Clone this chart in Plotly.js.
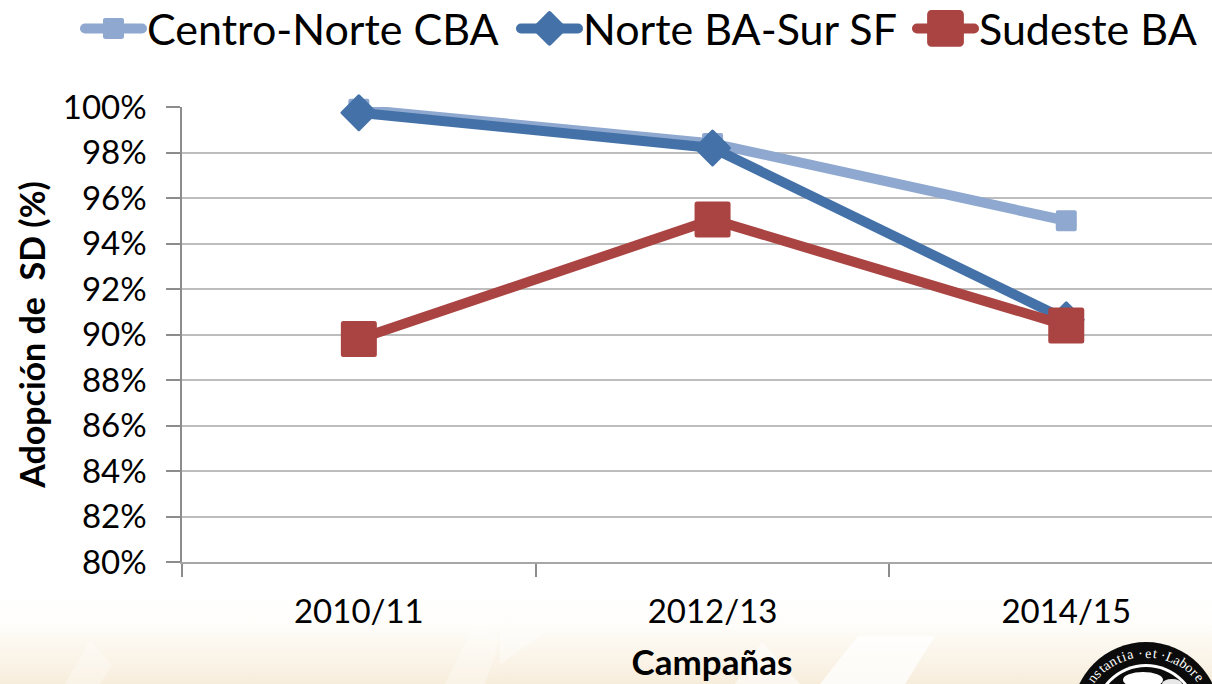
<!DOCTYPE html>
<html><head><meta charset="utf-8">
<script src="https://cdn.plot.ly/plotly-3.0.1.min.js"></script>
<style>
html,body{margin:0;padding:0;width:1212px;height:684px;overflow:hidden;
background:linear-gradient(to bottom,#ffffff 0,#ffffff 595px,#fefdfa 625px,#fbf5ea 655px,#f7eddc 684px);}
#chart{width:1212px;height:684px;}
.scatterpts, .points path, .legendpoints path{stroke-linejoin:round;}
.legendlines path, .js-line{stroke-linecap:round;}
</style></head><body><div id="chart"></div>
<script>
const campaigns = ["2010/11","2012/13","2014/15"];
const centroNorte = [99.9,98.4,95.0];
const norteBA = [99.75,98.2,90.65];
const sudeste = [89.8,95.05,90.4];
const yTicks = [80,82,84,86,88,90,92,94,96,98,100];
const FONT = "Lato, Carlito, sans-serif";
const logoText = "Constantia · et · Labore";

const logoCx = 1146, logoCy = 716, logoRx = 67, logoRy = 63;
const px = v=>(v-182)/1030, py = v=>(562-v)/455;
const logoAnn = [];
let deg = -66;
[...logoText].forEach(c=>{
  const a = deg*Math.PI/180;
  const tx = logoCx+logoRx*Math.sin(a), ty = logoCy-logoRy*Math.cos(a);
  if (c!==' ' && ty<680 && tx<1203) logoAnn.push({xref:'paper',yref:'paper',
    x:px(tx), y:py(ty), text:c,showarrow:false,textangle:deg,xanchor:'center',yanchor:'middle',
    font:{family:"Liberation Serif, serif",size:14,color:'#ffffff'}});
  deg += (c===' ') ? 2.5 : (c==='·' ? 4 : (c==='i'||c==='t' ? 5 : 6.2));
});
const circle=(r,col)=>({type:'circle',xref:'paper',yref:'paper',layer:'above',
  x0:px(logoCx-r),x1:px(logoCx+r),y0:py(logoCy+r),y1:py(logoCy-r),
  fillcolor:col,line:{width:0}});
const oval=(cx,cy,rx,ry,col)=>({type:'circle',xref:'paper',yref:'paper',layer:'above',
  x0:px(cx-rx),x1:px(cx+rx),y0:py(cy+ry),y1:py(cy-ry),fillcolor:col,line:{width:0}});
const wheat=(pts,op)=>({type:'path',xref:'paper',yref:'paper',layer:'below',
  path:'M'+pts.map(p=>px(p[0])+','+py(p[1])).join(' L')+' Z',fillcolor:'#ffffff',opacity:op,line:{width:0}});

const traces = [
 {name:"Centro-Norte CBA",y:centroNorte,color:"#8EA8CF",sym:"square",size:17,lw:4},
 {name:"Norte BA-Sur SF",y:norteBA,color:"#4472A8",sym:"diamond",size:26,lw:3},
 {name:"Sudeste BA",y:sudeste,color:"#A94442",sym:"square",size:31,lw:5}
].map(t=>({type:'scatter',mode:'lines+markers',name:t.name,x:campaigns,y:t.y,cliponaxis:false,
  line:{color:t.color,width:10},
  marker:{symbol:t.sym,size:t.size,color:t.color,line:{width:t.lw,color:t.color}}}));

const layout = {
 width:1212,height:684,
 margin:{l:182,r:0,t:107,b:122,pad:0},
 paper_bgcolor:'rgba(0,0,0,0)',plot_bgcolor:'rgba(0,0,0,0)',
 font:{family:FONT,color:'#000000',size:33},
 showlegend:true,
 legend:{orientation:'h',x:0,y:1,xref:'container',yref:'container',xanchor:'left',yanchor:'top',
   font:{family:FONT,size:43},itemwidth:57,entrywidth:250,entrywidthmode:'pixels',bgcolor:'rgba(0,0,0,0)',traceorder:'normal'},
 xaxis:{type:'category',range:[-0.5,2.412],tickson:'boundaries',ticks:'outside',ticklen:13,tickwidth:1.5,tickcolor:'#8c8c8c',
   linecolor:'#a6a6a6',linewidth:2,showline:true,showgrid:false,zeroline:false,
   tickfont:{family:FONT,size:33},ticklabelstandoff:19,
   title:{text:"<b>Campañas</b>",font:{family:FONT,size:35},standoff:22}},
 yaxis:{range:[80,100],tickmode:'array',tickvals:yTicks,ticktext:yTicks.map(v=>v+'%'),ticks:'outside',ticklen:14,tickwidth:1.5,tickcolor:'#8c8c8c',
   linecolor:'#8c8c8c',linewidth:1.5,showline:true,gridcolor:'#bdbdbd',gridwidth:2,zeroline:false,
   tickfont:{family:FONT,size:33},ticklabelstandoff:13,
   title:{text:"<b>Adopción de\u00a0\u00a0SD (%)</b>",font:{family:FONT,size:34},standoff:7}},
 shapes:[
   wheat([[65,684],[90,640],[112,665],[100,684]],.3),
   wheat([[445,684],[462,650],[478,620],[500,640],[485,684]],.3),
   wheat([[500,665],[547,630],[500,630]],.4),
   wheat([[735,684],[762,642],[800,684]],.55),
   wheat([[820,684],[858,636],[935,636],[905,684]],.75),
   circle(74,'#0b0b0b'),circle(52,'#ffffff'),circle(49,'#0b0b0b'),
   oval(1143,680,20,8,'#ffffff'),oval(1172,684,10,5,'#e8e8e8')
 ],
 annotations:logoAnn
};
const legendScale=[1.05,1.45,1.75];
const legendLeft=[80,516,912];
const legendLift=6;
Plotly.newPlot('chart',traces,layout,{displayModeBar:false,responsive:false}).then(()=>{
  const sb=document.querySelector('.legend .scrollbox');
  if(sb) sb.removeAttribute('clip-path');
  document.querySelectorAll('.legend .traces').forEach((g,i)=>{
    const m=/translate\(\s*([-\d.]+)[ ,]+([-\d.]+)\s*\)/.exec(g.getAttribute('transform')||'');
    g.setAttribute('transform','translate('+legendLeft[i]+','+((m?+m[2]:0)-legendLift)+')');
    g.querySelectorAll('.legendpoints path').forEach(p=>{
      const t=p.getAttribute('transform')||'';
      p.setAttribute('transform',t+' scale('+legendScale[i]+')');
    });
  });
  const xt=document.querySelector('.xtitle');
  if(xt){ xt.setAttribute('x',712); xt.querySelectorAll('tspan[x]').forEach(s=>s.setAttribute('x',712)); }
});
</script></body></html>
